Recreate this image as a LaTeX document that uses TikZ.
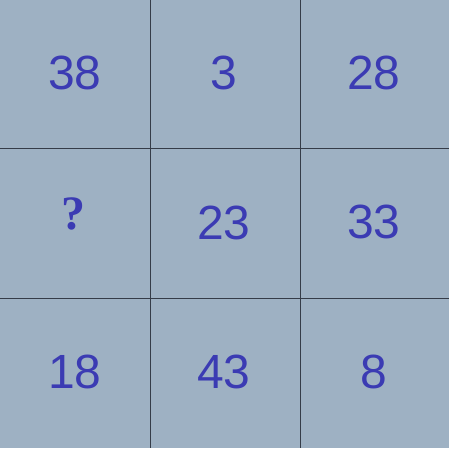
\documentclass[tikz,border=0pt]{standalone}
\usepackage{fontspec}
\setmainfont{Liberation Sans}
\newfontfamily\qfont{Liberation Serif}
\definecolor{bg}{HTML}{9EB1C3}
\definecolor{txt}{HTML}{3B3BB3}
\definecolor{ln}{HTML}{353C48}
\begin{document}
\begin{tikzpicture}[x=1pt,y=-1pt,
  num/.style={text=txt,font=\fontsize{48}{48}\selectfont,inner sep=0pt,anchor=center},
  qm/.style={text=txt,font=\qfont\fontsize{48}{48}\selectfont\bfseries,inner sep=0pt,anchor=center},
  gridline/.style={draw=ln,line width=1pt}]
\fill[bg] (0,0) rectangle (449,448);
\useasboundingbox (0,0) rectangle (449,448);
\coordinate (v1t) at (150,0); \coordinate (v1b) at (150,448);
\coordinate (v2t) at (300,0); \coordinate (v2b) at (300,448);
\coordinate (h1l) at (0,148); \coordinate (h1r) at (449,148);
\coordinate (h2l) at (0,298); \coordinate (h2r) at (449,298);
\draw[gridline] (v1t) -- (v1b);
\draw[gridline] (v2t) -- (v2b);
\draw[gridline] (h1l) -- (h1r);
\draw[gridline] (h2l) -- (h2r);
\node[num] (a) at (75,73) {38};
\node[num] (b) at (224,73) {3};
\node[num] (c) at (374,73) {28};
\node[qm] (d) at (73,214) {?};
\node[num] (e) at (224,223) {23};
\node[num] (f) at (374,222) {33};
\node[num] (g) at (75,372) {18};
\node[num] (h) at (224,372) {43};
\node[num] (i) at (374,372) {8};
\end{tikzpicture}
\end{document}
